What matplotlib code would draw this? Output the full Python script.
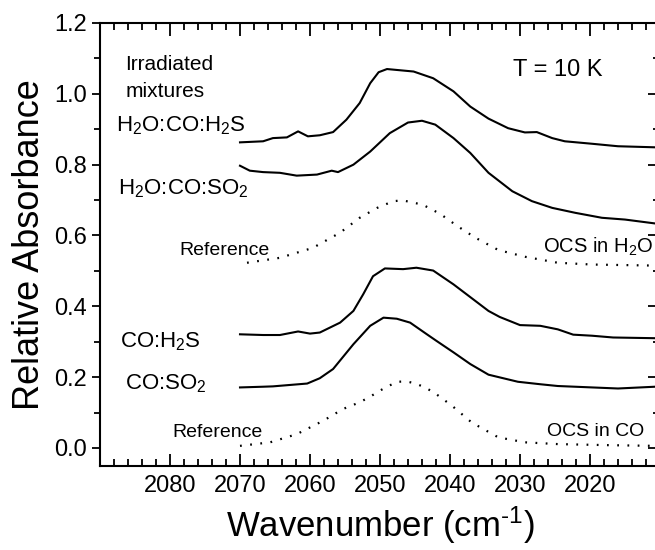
import matplotlib
matplotlib.use('Agg')
import matplotlib.pyplot as plt
from matplotlib.ticker import MultipleLocator, FormatStrFormatter

plt.rcParams['font.family'] = ['Liberation Sans', 'DejaVu Sans']
plt.rcParams['mathtext.fontset'] = 'custom'
plt.rcParams['mathtext.rm'] = 'Liberation Sans'
plt.rcParams['mathtext.it'] = 'Liberation Sans:italic'
plt.rcParams['mathtext.default'] = 'regular'

# irradiated H2O:CO:H2S
h2s_water_x = [2070, 2066.7, 2065.3, 2063.3, 2061.7, 2060.3, 2058.6, 2056.7, 2054.8, 2052.9,
               2051.4, 2050.2, 2049.0, 2045.2, 2042.4, 2039.5, 2037.1, 2034.5, 2031.7, 2029.3,
               2027.6, 2025.4, 2023.6, 2019.7, 2016.0, 2010.7]
h2s_water_y = [0.863, 0.866, 0.875, 0.877, 0.894, 0.880, 0.883, 0.892, 0.927, 0.974,
               1.030, 1.061, 1.070, 1.063, 1.044, 1.007, 0.964, 0.930, 0.903, 0.891,
               0.892, 0.875, 0.866, 0.859, 0.852, 0.849]

# irradiated H2O:CO:SO2
so2_water_x = [2070, 2068.6, 2066.7, 2064.3, 2061.9, 2059.0, 2056.9, 2056.0, 2053.8, 2051.4,
               2048.6, 2046.0, 2044.0, 2042.1, 2039.5, 2037.1, 2034.5, 2031.1, 2028.3, 2025.4,
               2022.1, 2018.3, 2015.0, 2010.7]
so2_water_y = [0.797, 0.783, 0.779, 0.777, 0.769, 0.772, 0.783, 0.779, 0.800, 0.837,
               0.889, 0.919, 0.924, 0.913, 0.875, 0.833, 0.777, 0.725, 0.697, 0.678,
               0.664, 0.650, 0.645, 0.634]

# OCS in H2O reference
ref_water_x = [2069.0, 2064.3, 2059.6, 2055.7, 2052.9, 2050.4, 2048.1, 2046.7, 2043.9, 2041.4,
               2038.9, 2036.4, 2033.1, 2029.3, 2024.6, 2019.7, 2010.7]
ref_water_y = [0.523, 0.537, 0.565, 0.608, 0.650, 0.678, 0.697, 0.699, 0.687, 0.661,
               0.626, 0.594, 0.559, 0.540, 0.523, 0.518, 0.515]

# irradiated CO:H2S
h2s_co_x = [2070, 2066.7, 2064.3, 2061.7, 2060.0, 2058.6, 2055.7, 2053.8, 2052.4, 2051.0,
            2049.3, 2046.7, 2044.8, 2042.4, 2039.5, 2036.7, 2034.5, 2032.9, 2030.0, 2027.1,
            2024.6, 2022.4, 2019.7, 2016.7, 2010.7]
h2s_co_y = [0.321, 0.319, 0.319, 0.329, 0.323, 0.326, 0.354, 0.387, 0.434, 0.485,
            0.507, 0.505, 0.509, 0.501, 0.462, 0.420, 0.387, 0.370, 0.347, 0.345,
            0.335, 0.320, 0.317, 0.312, 0.310]

# irradiated CO:SO2
so2_co_x = [2070, 2066.7, 2065.3, 2060.4, 2058.6, 2056.7, 2053.8, 2051.4, 2049.5, 2047.6,
            2045.7, 2043.3, 2041.9, 2039.5, 2037.1, 2034.5, 2030.3, 2027.1, 2024.6, 2019.7,
            2016.0, 2010.7]
so2_co_y = [0.171, 0.173, 0.174, 0.182, 0.197, 0.223, 0.293, 0.345, 0.368, 0.365,
            0.354, 0.321, 0.302, 0.270, 0.237, 0.207, 0.187, 0.180, 0.175, 0.171,
            0.168, 0.173]

# OCS in CO reference
ref_co_x = [2070, 2065.7, 2061.9, 2058.1, 2055.3, 2052.9, 2051.4, 2050.1, 2048.8, 2047.5,
            2046.2, 2044.9, 2043.6, 2042.3, 2041.0, 2039.7, 2036.9, 2033.1, 2029.3, 2024.6,
            2017.4, 2010.7]
ref_co_y = [0.006, 0.016, 0.039, 0.077, 0.110, 0.129, 0.145, 0.161, 0.175, 0.187,
            0.188, 0.182, 0.171, 0.157, 0.138, 0.119, 0.072, 0.030, 0.016, 0.011,
            0.008, 0.006]

fig = plt.figure(figsize=(6.55, 5.5), dpi=100)
# right spine sits at 2010, just past the figure edge
ax = fig.add_axes([100 / 655, 84.3 / 550, 560 / 655, 442.7 / 550])

solid = dict(color='k', lw=1.5)
dotted = dict(color='k', lw=1.6, linestyle=(0, (0.8, 3.8)))
ax.plot(h2s_water_x, h2s_water_y, **solid)
ax.plot(so2_water_x, so2_water_y, **solid)
ax.plot(ref_water_x, ref_water_y, **dotted)
ax.plot(h2s_co_x, h2s_co_y, **solid)
ax.plot(so2_co_x, so2_co_y, **solid)
ax.plot(ref_co_x, ref_co_y, **dotted)

ax.set_xlim(2090, 2010)
ax.set_ylim(-0.05, 1.2)

ax.xaxis.set_minor_locator(MultipleLocator(2))
ax.set_xticks([2080, 2070, 2060, 2050, 2040, 2030, 2020])
ax.yaxis.set_major_locator(MultipleLocator(0.2))
ax.yaxis.set_minor_locator(MultipleLocator(0.1))
ax.yaxis.set_major_formatter(FormatStrFormatter('%.1f'))

ax.tick_params(axis='x', which='both', direction='in', top=True, labelsize=17, pad=7, width=1.3)
ax.tick_params(axis='x', which='major', length=9)
ax.tick_params(axis='x', which='minor', length=5)
ax.tick_params(axis='y', which='both', direction='out', right=False, labelsize=17, width=1.3)
ax.tick_params(axis='y', which='major', length=6)
ax.tick_params(axis='y', which='minor', length=4)

right = ax.secondary_yaxis('right')
right.yaxis.set_major_locator(MultipleLocator(0.2))
right.yaxis.set_minor_locator(MultipleLocator(0.1))
right.tick_params(which='both', direction='in', labelright=False, width=1.3)
right.tick_params(which='major', length=9)
right.tick_params(which='minor', length=5)

for sp in ax.spines.values():
    sp.set_linewidth(1.5)

ax.set_xlabel('Wavenumber (cm$^{\u20101}$)', fontsize=25, labelpad=5)
ax.set_ylabel('Relative Absorbance', fontsize=26, labelpad=5)

ax.text(2086.4, 1.068, 'Irradiated', fontsize=15, va='baseline')
ax.text(2086.4, 0.992, 'mixtures', fontsize=15, va='baseline')
ax.text(2087.7, 0.894, 'H$_2$O:CO:H$_2$S', fontsize=16, va='baseline')
ax.text(2087.4, 0.715, 'H$_2$O:CO:SO$_2$', fontsize=16, va='baseline')
ax.text(2078.6, 0.546, 'Reference', fontsize=14, va='baseline')
ax.text(2031.0, 1.049, 'T = 10 K', fontsize=17, va='baseline')
ax.text(2026.7, 0.551, 'OCS in H$_2$O', fontsize=14.5, va='baseline')
ax.text(2087.1, 0.284, 'CO:H$_2$S', fontsize=16, va='baseline')
ax.text(2086.4, 0.166, 'CO:SO$_2$', fontsize=16, va='baseline')
ax.text(2079.6, 0.032, 'Reference', fontsize=14, va='baseline')
ax.text(2026.2, 0.035, 'OCS in CO', fontsize=14, va='baseline')

fig.savefig('out.png', dpi=100)
